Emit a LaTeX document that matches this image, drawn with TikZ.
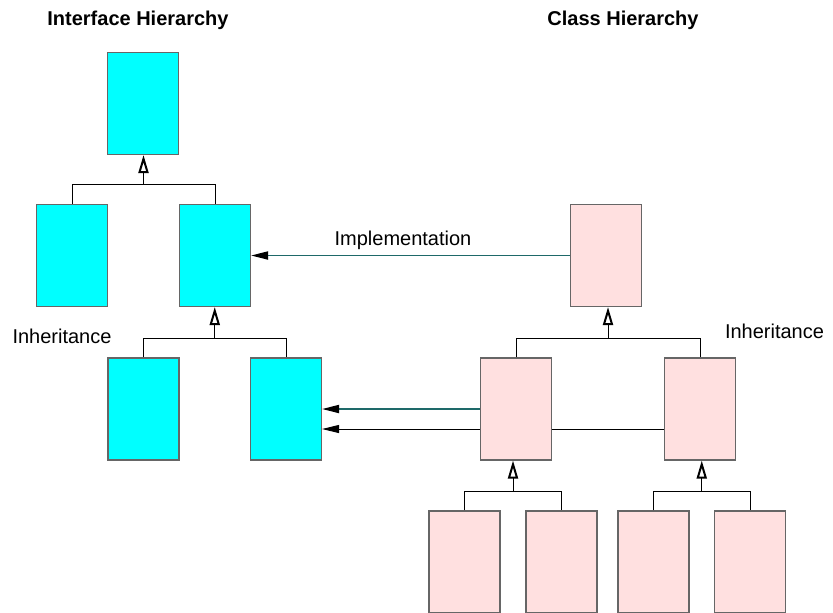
\documentclass[tikz,border=0pt]{standalone}
\usepackage{fontspec}
\setmainfont{Liberation Sans}
\usetikzlibrary{arrows.meta,calc}
\definecolor{ifacecyan}{RGB}{0,255,255}
\definecolor{classpink}{RGB}{255,224,224}
\definecolor{impteal}{RGB}{30,105,105}
\tikzset{
  ibox/.style={draw=black!60, fill=ifacecyan, line width=0.55pt, inner sep=0pt, minimum width=35.5pt, minimum height=51pt},
  cbox/.style={ibox, fill=classpink},
  inh/.style={line width=0.5pt, -{Triangle[open, length=9pt, width=5pt, line width=1pt]}},
  impl/.style={impteal, line width=0.9pt, -{Triangle[black, length=8.5pt, width=4pt]}},
  ext/.style={black, line width=0.5pt, -{Triangle[black, length=8.5pt, width=4pt]}}
}
\begin{document}
\begin{tikzpicture}[x=0.5pt, y=-0.5pt, font=\fontsize{10pt}{12pt}\selectfont]
        \useasboundingbox[fill=white] (0,0) rectangle (833,612);

        % titles
        \node[font=\fontsize{10pt}{12pt}\selectfont\bfseries] (ititle) at (138,20) {Interface Hierarchy};
        \node[font=\fontsize{10pt}{12pt}\selectfont\bfseries] (ctitle) at (623,20) {Class Hierarchy};

        % interfaces
        \node[ibox] (i0) at (143,103.5) {};
        \node[ibox] (i1) at (72,255.5) {};
        \node[ibox] (i2) at (215,255.5) {};
        \node[ibox] (i3) at (143.5,409) {};
        \node[ibox] (i4) at (286,409) {};

        % classes
        \node[cbox] (c0) at (606,255.5) {};
        \node[cbox] (c1) at (516,409) {};
        \node[cbox] (c2) at (700,409) {};
        \node[cbox] (c3) at (464.5,562) {};
        \node[cbox] (c4) at (561.5,562) {};
        \node[cbox] (c5) at (653.5,562) {};
        \node[cbox] (c6) at (750,562) {};

        % inheritance trees
        \foreach \p/\a/\b/\y in {i0/i1/i2/184, i2/i3/i4/338, c0/c1/c2/338, c1/c3/c4/491, c2/c5/c6/491} {
            \coordinate (j\p) at ($(\a.north)!0.5!(\b.north)$);
            \draw[line width=0.5pt] (\a.north) |- (j\p |- 0,\y) -| (\b.north);
            \draw[inh] (j\p |- 0,\y) -- (\p.south -| j\p);
        }

        % implementation
        \draw[impl] (c0.west) -- (i2.east);
        \draw[impl] (c1.west) -- (i4.east);
        \draw[ext] ([yshift=-10pt]c1.west) -- ([yshift=-10pt]i4.east);
        \draw[line width=0.5pt] ([yshift=-10pt]c1.east) -- ([yshift=-10pt]c2.west);

        \node (implabel) at (403,240) {Implementation};
        \node (ilabel) at (62,336) {Inheritance};
        \node (clabel) at (774.5,331) {Inheritance};
    \end{tikzpicture}
\end{document}
